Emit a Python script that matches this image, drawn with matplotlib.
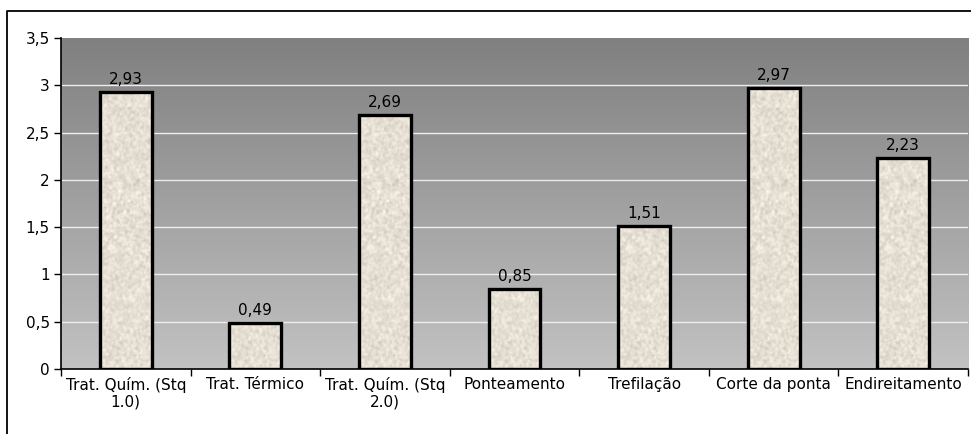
import numpy as np
import matplotlib
matplotlib.use("Agg")
import matplotlib.pyplot as plt
from matplotlib.lines import Line2D

categories = ["Trat. Quím. (Stq\n1.0)", "Trat. Térmico", "Trat. Quím. (Stq\n2.0)",
              "Ponteamento", "Trefilação", "Corte da ponta", "Endireitamento"]
values = [2.93, 0.49, 2.69, 0.85, 1.51, 2.97, 2.23]
yticks = [0, 0.5, 1, 1.5, 2, 2.5, 3, 3.5]
ytick_labels = ["0", "0,5", "1", "1,5", "2", "2,5", "3", "3,5"]

W, H = 971, 434
fig = plt.figure(figsize=(W / 100, H / 100), dpi=100)
fig.patch.set_facecolor("white")

# chart-area border (runs off the right and bottom edges)
fig.add_artist(Line2D([6.5 / W, 6.5 / W, 1.02], [-0.02, 1 - 10.5 / H, 1 - 10.5 / H],
                      transform=fig.transFigure, color="black", lw=1.3))

left, right, top, bottom = 61, 968, 38, 369
ax = fig.add_axes([left / W, 1 - bottom / H, (right - left) / W, (bottom - top) / H])

n = len(categories)
ax.set_xlim(-0.5, n - 0.5)
ax.set_ylim(0, 3.5)

# vertical gray gradient background: darker at the top
grad = np.linspace(0, 1, 256).reshape(-1, 1)
top_c = np.array([0x80, 0x80, 0x80]) / 255
bot_c = np.array([0xc2, 0xc2, 0xc2]) / 255
img = top_c + (bot_c - top_c) * grad[:, :, None]
ax.imshow(img, extent=(-0.5, n - 0.5, 0, 3.5), origin="upper", aspect="auto",
          zorder=0, interpolation="bilinear")

# grid lines
for yv in yticks[1:-1]:
    ax.axhline(yv, color="#ededed", lw=1.0, zorder=1)

x = np.arange(n)
bars = ax.bar(x, values, width=0.4, color="#e9e2d7", edgecolor="black",
              linewidth=2.4, zorder=4)

# speckled stone texture inside the bars
rng = np.random.default_rng(7)
noise = rng.normal(0, 1, (330, 60))
for _ in range(2):
    noise = (noise + np.roll(noise, 1, 0) + np.roll(noise, -1, 0)
             + np.roll(noise, 1, 1) + np.roll(noise, -1, 1)) / 5
noise = noise / noise.std()
base = np.array([0xe6, 0xdf, 0xd3]) / 255
tex = np.clip(base + 0.03 * noise[:, :, None], 0, 1)
for b in bars:
    x0, w = b.get_x(), b.get_width()
    im = ax.imshow(tex, extent=(x0, x0 + w, 0, 3.5), aspect="auto", zorder=3,
                   interpolation="bilinear")
    im.set_clip_path(b)
    b.set_facecolor("none")

# value labels
for xi, v in zip(x, values):
    ax.text(xi, v + 0.05, f"{v:.2f}".replace(".", ","), ha="center", va="bottom",
            fontsize=11, color="black", zorder=5)

ax.set_yticks(yticks)
ax.set_yticklabels(ytick_labels, fontsize=11)
ax.set_xticks(x)
ax.set_xticklabels(categories, fontsize=11, linespacing=1.1)
ax.set_xticks(np.arange(-0.5, n, 1), minor=True)
ax.tick_params(axis="x", which="major", length=0, pad=6)
ax.tick_params(axis="x", which="minor", length=5, width=1, direction="out")
ax.tick_params(axis="y", length=5, width=1, direction="out", pad=3)

for side in ["top", "right"]:
    ax.spines[side].set_visible(False)
ax.spines["left"].set_linewidth(1.2)
ax.spines["bottom"].set_linewidth(1.2)
ax.spines["left"].set_zorder(6)
ax.spines["bottom"].set_zorder(6)

fig.savefig("out.png", dpi=100)
